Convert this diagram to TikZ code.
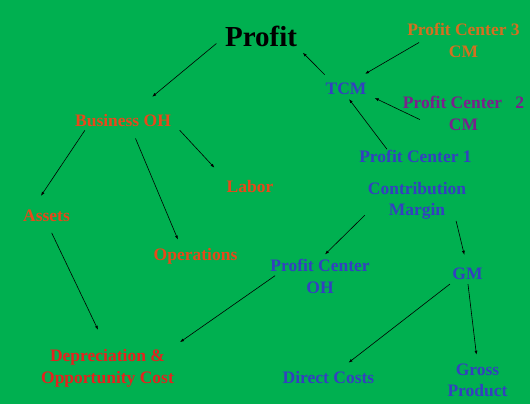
\documentclass[tikz,border=0pt]{standalone}
\usepackage{fontspec}
\setmainfont{Liberation Serif}
\usetikzlibrary{arrows.meta}
\definecolor{sheet}{RGB}{0,176,80}
\definecolor{ohred}{RGB}{232,72,26}
\definecolor{costred}{RGB}{228,34,30}
\definecolor{pcorange}{RGB}{212,112,32}
\definecolor{pcpurple}{RGB}{122,32,140}
\definecolor{cmblue}{RGB}{52,64,192}
\tikzset{
  item/.style = {font=\bfseries\fontsize{17.5bp}{21.5bp}\selectfont,
                 inner sep=0pt, align=center},
  link/.style = {-{Latex[length=4bp,width=3bp]}, line width=0.6bp, black},
}

\begin{document}
\begin{tikzpicture}[x=1bp,y=-1bp]
  \fill[sheet] (0,0) rectangle (530,404);
  \useasboundingbox (0,0) rectangle (530,404);

  % ---------------- overhead side -----------------------------------------
  \node[item,font=\bfseries\fontsize{29bp}{32bp}\selectfont] (profit) at (261,36.5) {Profit};
  \node[item,text=ohred] (busoh) at (123,121) {Business OH};
  \node[item,text=ohred] (labor) at (250,187) {Labor};
  \node[item,text=ohred] (assets) at (46.5,216) {Assets};
  \node[item,text=ohred] (operations) at (195.5,256) {Operations};
  \node[item,text=costred] (deprec) at (107.5,368.5) {Depreciation \&\\ Opportunity Cost};

  % ---------------- contribution side -------------------------------------
  \node[item,text=pcorange] (pc3) at (463.5,40.5) {Profit Center 3\\ CM};
  \node[item,text=cmblue] (tcm) at (346,89) {TCM};
  \node[item,text=pcpurple] (pc2) at (463.5,113.5) {Profit Center~~~2\\ CM};
  \node[item,text=cmblue] (pc1) at (415.5,156.5) {Profit Center 1};
  \node[item,text=cmblue] (contrib) at (417,201) {Contribution\\ Margin};
  \node[item,text=cmblue] (pcoh) at (320,276.5) {Profit Center\\ OH};
  \node[item,text=cmblue] (gm) at (467.5,274) {GM};
  \node[item,text=cmblue] (direct) at (328.5,378) {Direct Costs};
  \node[item,text=cmblue] (gross) at (477.5,380.5) {Gross\\ Product};

  % ---------------- arrows ------------------------------------------------
  \draw[link,shorten <=11bp,shorten >=38bp] (profit.west) -- (busoh.center);
  \draw[link,shorten <=3.6bp,shorten >=17bp] (busoh.190) -- (assets.158);
  \draw[link,shorten <=12bp,shorten >=9bp] (busoh.321) -- (operations.150);
  \draw[link,shorten <=12.6bp,shorten >=17.7bp] (busoh.east) -- (labor.north west);
  \draw[link,shorten <=12bp,shorten >=22bp] (assets.south) -- (deprec.north);
  \draw[link,shorten <=-6bp,shorten >=13bp] (pcoh.183) -- (deprec.17);
  \draw[link,shorten <=11.6bp,shorten >=8bp] (tcm.155) -- (profit.south east);
  \draw[link,shorten <=-13.8bp,shorten >=18bp] (pc3.189) -- (tcm.60);
  \draw[link,shorten <=-19bp,shorten >=9bp] (pc2.178) -- (tcm.346);
  \draw[link,shorten <=1bp,shorten >=5bp] (pc1.167) -- (tcm.south);
  \draw[link,shorten <=4bp,shorten >=7bp] (contrib.193) -- (pcoh.north);
  \draw[link,shorten <=1bp,shorten >=13.5bp] (contrib.334) -- (gm.north);
  \draw[link,shorten <=6.5bp,shorten >=14.7bp] (gm.206) -- (direct.37);
  \draw[link,shorten <=4bp,shorten >=9bp] (gm.south) -- (gross.north);
\end{tikzpicture}
\end{document}
